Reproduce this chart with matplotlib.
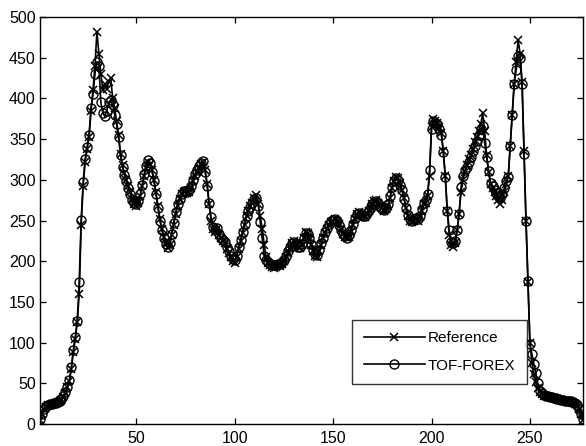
import matplotlib
matplotlib.use("Agg")
import matplotlib.pyplot as plt
import numpy as np

# sample index runs 1..277
reference = [
    5, 12, 18, 21, 23, 24, 25, 25, 26, 27,
    28, 30, 33, 38, 45, 53, 68, 88, 105, 125,
    160, 245, 292, 322, 338, 352, 385, 410, 440, 482,
    455, 430, 410, 418, 412, 420, 425, 400, 388, 372,
    355, 332, 318, 308, 300, 292, 285, 276, 270, 268,
    272, 280, 292, 305, 315, 322, 320, 312, 300, 285,
    268, 252, 240, 230, 222, 216, 220, 232, 245, 258,
    268, 276, 282, 285, 286, 284, 285, 290, 298, 305,
    310, 315, 320, 322, 312, 295, 270, 250, 240, 236,
    240, 232, 228, 225, 222, 215, 210, 205, 200, 198,
    205, 215, 225, 235, 245, 255, 262, 268, 272, 278,
    281, 270, 255, 240, 220, 205, 198, 195, 193, 192,
    193, 195, 194, 197, 200, 205, 210, 216, 222, 225,
    222, 218, 216, 220, 228, 236, 235, 228, 220, 212,
    206, 205, 212, 220, 228, 235, 240, 245, 248, 250,
    252, 250, 246, 240, 234, 230, 228, 230, 236, 245,
    252, 258, 260, 258, 255, 254, 258, 262, 266, 270,
    274, 275, 272, 268, 265, 262, 264, 268, 278, 290,
    298, 303, 302, 296, 288, 278, 266, 256, 250, 248,
    250, 252, 250, 254, 262, 270, 272, 280, 305, 365,
    375, 372, 370, 365, 358, 335, 305, 262, 232, 220,
    218, 222, 238, 258, 285, 300, 310, 318, 325, 330,
    338, 346, 352, 360, 368, 382, 360, 330, 310, 295,
    290, 285, 280, 275, 270, 275, 285, 295, 305, 342,
    380, 418, 445, 472, 455, 420, 335, 250, 175, 100,
    75, 62, 52, 44, 40, 37, 35, 34, 33, 33,
    32, 32, 31, 31, 30, 30, 29, 29, 28, 28,
    27, 26, 25, 23, 18, 12, 5,
]

tof_forex = [
    6, 13, 19, 22, 23, 25, 25, 26, 26, 27,
    29, 31, 34, 39, 46, 54, 70, 91, 107, 127,
    174, 251, 297, 326, 340, 355, 388, 405, 430, 445,
    440, 395, 382, 378, 385, 395, 398, 392, 380, 368,
    352, 330, 316, 306, 298, 290, 283, 275, 271, 270,
    274, 282, 294, 307, 317, 324, 321, 310, 298, 282,
    266, 250, 238, 229, 221, 218, 222, 234, 247, 260,
    270, 277, 283, 286, 286, 285, 287, 292, 300, 307,
    312, 317, 321, 323, 310, 293, 272, 254, 242, 238,
    241, 234, 229, 226, 224, 217, 212, 207, 203, 201,
    207, 217, 226, 236, 246, 255, 262, 267, 271, 276,
    278, 268, 248, 229, 207, 202, 199, 197, 195, 195,
    196, 197, 197, 199, 202, 207, 212, 218, 222, 224,
    221, 218, 217, 221, 229, 235, 234, 228, 221, 214,
    209, 208, 214, 222, 229, 236, 241, 246, 249, 251,
    252, 249, 245, 239, 234, 231, 229, 232, 238, 246,
    253, 258, 259, 257, 255, 255, 259, 263, 267, 270,
    273, 274, 271, 267, 264, 263, 265, 270, 280, 291,
    299, 302, 300, 294, 287, 277, 265, 257, 252, 250,
    252, 253, 252, 256, 264, 272, 275, 282, 312, 362,
    372, 370, 368, 362, 355, 334, 303, 262, 238, 224,
    222, 225, 238, 258, 291, 305, 312, 316, 322, 328,
    335, 342, 348, 355, 362, 366, 345, 328, 311, 296,
    292, 288, 284, 280, 278, 282, 290, 298, 304, 342,
    379, 418, 435, 452, 450, 418, 332, 250, 176, 99,
    86, 74, 63, 50, 41, 38, 36, 35, 34, 33,
    33, 32, 32, 31, 31, 30, 30, 29, 29, 28,
    28, 27, 26, 24, 19, 13, 6,
]

y_ticks = [0, 50, 100, 150, 200, 250, 300, 350, 400, 450, 500]
x_ticks = [50, 100, 150, 200, 250]

plt.rcParams["font.family"] = ["Liberation Sans", "DejaVu Sans"]

x = np.arange(1, len(reference) + 1)

fig = plt.figure(figsize=(5.86, 4.46), dpi=100)
ax = fig.add_axes([0.068, 0.049, 0.927, 0.913])

ax.plot(x, reference, color="black", lw=1.2, marker="x", ms=5.5, mew=1.1,
        label="Reference")
ax.plot(x, tof_forex, color="black", lw=1.2, marker="o", ms=6.5, mew=1.0,
        mfc="none", label="TOF-FOREX")

ax.set_xlim(1, 277)
ax.set_ylim(0, 500)
ax.set_xticks(x_ticks)
ax.set_yticks(y_ticks)
ax.tick_params(direction="in", top=True, right=True, length=4, width=0.9,
               labelsize=11.5, colors="black", pad=3)
ax.tick_params(axis="x", pad=5)
for sp in ax.spines.values():
    sp.set_linewidth(1.0)

leg = ax.legend(loc="lower right", bbox_to_anchor=(0.897, 0.098),
                fontsize=11, frameon=True, fancybox=False, edgecolor="black",
                handlelength=4.0, borderpad=0.75, labelspacing=0.9,
                handletextpad=0.2, borderaxespad=0.0)
leg.get_frame().set_linewidth(1.0)

fig.savefig("out.png", dpi=100, facecolor="white")
